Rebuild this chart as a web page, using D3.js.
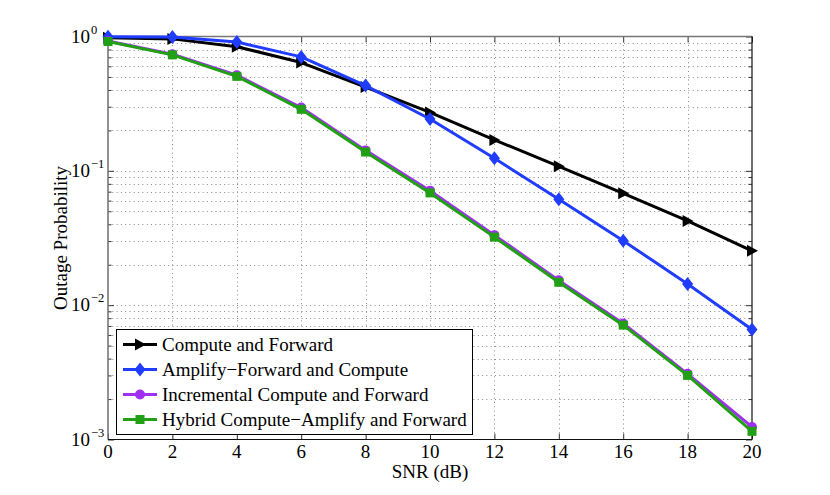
<!DOCTYPE html>
<html>
<head>
<meta charset="utf-8">
<script src="https://cdn.jsdelivr.net/npm/d3@7"></script>
<style>
  html, body { margin: 0; padding: 0; background: #fff; }
  svg { display: block; }
  text { font-family: "Liberation Serif", "Times New Roman", serif; fill: #000; }
</style>
</head>
<body>
<svg id="chart" width="830" height="495"></svg>
<script>
// ---- data ----
const snr = [0, 2, 4, 6, 8, 10, 12, 14, 16, 18, 20];
const computeForward = [0.98, 0.96, 0.84, 0.64, 0.42, 0.272, 0.170, 0.108, 0.068, 0.0424, 0.0254];
const amplifyForwardCompute = [0.995, 0.99, 0.91, 0.705, 0.431, 0.243, 0.124, 0.0615, 0.0302, 0.01435, 0.00659];
const incrementalCF = [0.925, 0.738, 0.515, 0.296, 0.142, 0.0712, 0.0332, 0.0153, 0.0073, 0.00308, 0.00124];
const hybridCAF = [0.918, 0.73, 0.505, 0.287, 0.138, 0.0685, 0.0321, 0.0148, 0.0071, 0.0030, 0.00115];
const seriesNames = ["Compute and Forward", "Amplify\u2212Forward and Compute", "Incremental Compute and Forward", "Hybrid Compute\u2212Amplify and Forward"];
const xTicks = [0, 2, 4, 6, 8, 10, 12, 14, 16, 18, 20];
const yTickExponents = [0, -1, -2, -3];

const series = [
  { name: seriesNames[0], values: computeForward, color: "#000000", marker: "triangle" },
  { name: seriesNames[1], values: amplifyForwardCompute, color: "#1f3cff", marker: "diamond" },
  { name: seriesNames[2], values: incrementalCF, color: "#a030f0", marker: "circle" },
  { name: seriesNames[3], values: hybridCAF, color: "#22a015", marker: "square" }
];

const svg = d3.select("#chart");
const L = 108, R = 752, T = 36.5, B = 439.5;
const x = d3.scaleLinear().domain([0, 20]).range([L, R]);
const y = d3.scaleLog().domain([1e-3, 1]).range([B, T]);

// minor tick values
const minorVals = [];
for (let e = -3; e < 0; e++) for (let m = 2; m <= 9; m++) minorVals.push(m * Math.pow(10, e));
const majorVals = yTickExponents.map(e => Math.pow(10, e));

// grid
const grid = svg.append("g").attr("stroke", "#8a8a8a").attr("stroke-width", 1).attr("stroke-dasharray", "1,3.3");
xTicks.slice(1, -1).forEach(v => {
  grid.append("line").attr("x1", Math.round(x(v)) + 0.5).attr("x2", Math.round(x(v)) + 0.5).attr("y1", T).attr("y2", B);
});
minorVals.concat(majorVals.slice(1, -1)).forEach(v => {
  grid.append("line").attr("x1", L).attr("x2", R).attr("y1", Math.round(y(v)) + 0.5).attr("y2", Math.round(y(v)) + 0.5);
});

// ticks via d3 axes (inward)
const axL = svg.append("g").attr("transform", `translate(${L},0)`)
  .call(d3.axisRight(y).tickValues(majorVals).tickSize(6).tickFormat(""));
const axLm = svg.append("g").attr("transform", `translate(${L},0)`)
  .call(d3.axisRight(y).tickValues(minorVals).tickSize(3.5).tickFormat(""));
const axR = svg.append("g").attr("transform", `translate(${R},0)`)
  .call(d3.axisLeft(y).tickValues(majorVals).tickSize(6).tickFormat(""));
const axRm = svg.append("g").attr("transform", `translate(${R},0)`)
  .call(d3.axisLeft(y).tickValues(minorVals).tickSize(3.5).tickFormat(""));
const axB = svg.append("g").attr("transform", `translate(0,${B})`)
  .call(d3.axisTop(x).tickValues(xTicks).tickSize(6).tickFormat(""));
const axT = svg.append("g").attr("transform", `translate(0,${T})`)
  .call(d3.axisBottom(x).tickValues(xTicks).tickSize(6).tickFormat(""));
[axL, axLm, axR, axRm, axB, axT].forEach(g => {
  g.select(".domain").remove();
  g.selectAll("line").attr("stroke", "#333");
});

// frame
svg.append("line").attr("x1", L).attr("x2", L).attr("y1", T).attr("y2", B).attr("stroke", "#777").attr("stroke-width", 1.6);
svg.append("line").attr("x1", L).attr("x2", R).attr("y1", T).attr("y2", T).attr("stroke", "#777").attr("stroke-width", 1.6);
svg.append("line").attr("x1", L).attr("x2", R).attr("y1", B).attr("y2", B).attr("stroke", "#111").attr("stroke-width", 1.2);
svg.append("line").attr("x1", R).attr("x2", R).attr("y1", T).attr("y2", B).attr("stroke", "#111").attr("stroke-width", 1.2);

// tick labels
xTicks.forEach(v => {
  svg.append("text").attr("x", x(v)).attr("y", 458).attr("text-anchor", "middle")
    .attr("font-size", 19).text(v);
});
yTickExponents.forEach(e => {
  const yy = y(Math.pow(10, e));
  svg.append("text").attr("x", 90).attr("y", yy + 6).attr("text-anchor", "end").attr("font-size", 19).text("10");
  svg.append("text").attr("x", 91).attr("y", yy - 3).attr("text-anchor", "start").attr("font-size", 12.5)
    .text(e === 0 ? "0" : "\u2212" + Math.abs(e));
});

// axis labels
svg.append("text").attr("x", 430).attr("y", 478).attr("text-anchor", "middle").attr("font-size", 19).text("SNR (dB)");
svg.append("text").attr("transform", `translate(67,${(T + B) / 2}) rotate(-90)`).attr("text-anchor", "middle")
  .attr("font-size", 19).text("Outage Probability");

// markers
function drawMarker(g, type, cx, cy, color) {
  if (type === "triangle") {
    g.append("path").attr("d", `M${cx + 6},${cy} L${cx - 5},${cy - 6} L${cx - 5},${cy + 6} Z`).attr("fill", color);
  } else if (type === "diamond") {
    g.append("path").attr("d", `M${cx},${cy - 7} L${cx + 5.5},${cy} L${cx},${cy + 7} L${cx - 5.5},${cy} Z`).attr("fill", color);
  } else if (type === "circle") {
    g.append("circle").attr("cx", cx).attr("cy", cy).attr("r", 5).attr("fill", color);
  } else if (type === "square") {
    g.append("rect").attr("x", cx - 4.5).attr("y", cy - 4.5).attr("width", 9).attr("height", 9).attr("fill", color);
  }
}

const line = d3.line().x((d, i) => x(snr[i])).y(d => y(d));
series.forEach(s => {
  const g = svg.append("g");
  g.append("path").datum(s.values).attr("d", line).attr("fill", "none")
    .attr("stroke", s.color).attr("stroke-width", 3).attr("stroke-linejoin", "round");
  s.values.forEach((v, i) => drawMarker(g, s.marker, x(snr[i]), y(v), s.color));
});

// legend
const lg = svg.append("g");
lg.append("rect").attr("x", 116.5).attr("y", 329.5).attr("width", 356).attr("height", 105)
  .attr("fill", "#fff").attr("stroke", "#000").attr("stroke-width", 1);
series.forEach((s, i) => {
  const cy = 344.5 + i * 25;
  lg.append("line").attr("x1", 123).attr("x2", 157).attr("y1", cy).attr("y2", cy)
    .attr("stroke", s.color).attr("stroke-width", 3);
  drawMarker(lg, s.marker, 140, cy, s.color);
  lg.append("text").attr("x", 162).attr("y", cy + 6.5).attr("font-size", 19).text(s.name);
});
</script>
</body>
</html>
